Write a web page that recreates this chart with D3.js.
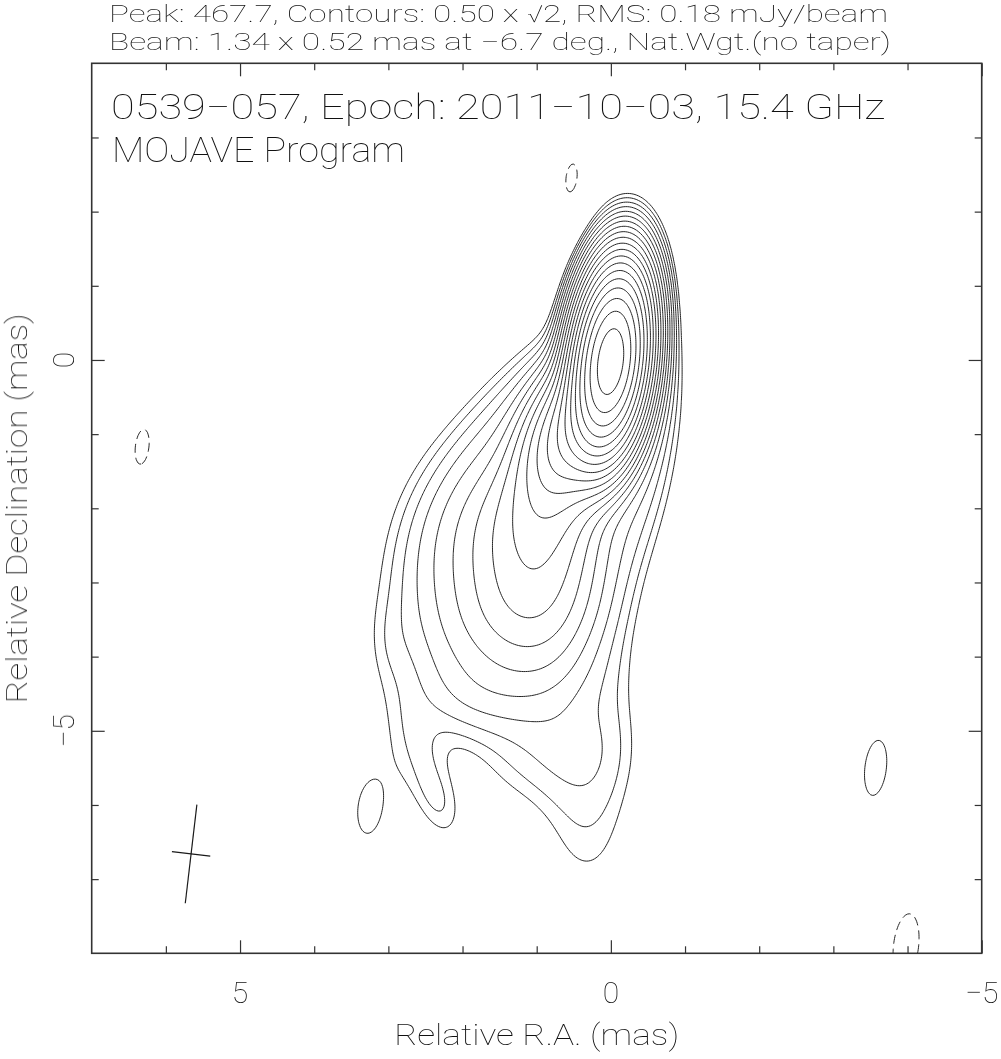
<!DOCTYPE html>
<html><head><meta charset="utf-8">
<script src="https://cdn.jsdelivr.net/npm/d3@7"></script>
<style>
body{margin:0;background:#fff;}
svg text{font-family:Roboto,"DejaVu Sans",sans-serif;font-weight:100;fill:#111;}
</style></head><body>
<svg id="chart" width="1001" height="1059"></svg>
<script>
// ---------------- data ----------------
const headerLines = [
  "Peak: 467.7, Contours: 0.50 x \u221A2, RMS: 0.18 mJy/beam",
  "Beam: 1.34 x 0.52 mas at \u22126.7 deg., Nat.Wgt.(no taper)"
];
const titleLines = ["0539\u2212057, Epoch: 2011\u221210\u221203, 15.4 GHz", "MOJAVE Program"];
const xLabel = "Relative R.A. (mas)";
const yLabel = "Relative Declination (mas)";
const xDomain = [7, -5];
const yDomain = [4, -8];
const xMajorTicks = [5, 0, -5];
const xMajorLabels = ["5", "0", "\u22125"];
const yMajorTicks = [0, -5];
const yMajorLabels = ["0", "\u22125"];
const xMinorTicks = [6, 4, 3, 2, 1, -1, -2, -3, -4];
const yMinorTicks = [3, 2, 1, -1, -2, -3, -4, -6, -7];
// contour levels (mJy/beam): 0.50 x sqrt(2)^n, and the negative -0.50 level
const levels = [0.5, 0.707, 1.0, 1.414, 2.0, 2.828, 4.0, 5.657, 8.0, 11.31,
                16.0, 22.63, 32.0, 45.25, 64.0, 90.51, 128.0, 181.0, 256.0, 362.0];
const negLevels = [0.5];
// brightness components: position (mas), peak (mJy/beam), FWHM major/minor (mas), PA (deg)
//               core   N1     N2     N3     N4     N5     N6     B1     B2     B3     M      W1     W2     E1     E2     bulge  Wf     Wn     U1     S      Lisl   Risl   neg1   neg2    neg3
const compX   = [0.00,  0.40,  0.75,  0.95,  1.00,  1.00,  0.85,  1.75,  1.70,  1.90,  1.70,  0.60,  0.38,  2.55,  2.30,  3.00, -0.05, -0.45,  1.30,  1.40,  3.25, -3.57,  0.53,  6.32,  -3.98];
const compY   = [0.00, -0.85, -1.55, -2.25, -2.95, -3.50, -4.15, -1.75, -2.60, -3.80, -4.60, -5.20, -6.35, -5.45, -6.05, -3.85, -4.50, -1.40, -0.50, -5.50, -6.04, -5.50,  2.45, -1.17,  -7.90];
const compAmp = [458,   33.2,  6.21,  4.56,  3.23,  1.89,  0.92,  1.12,  1.38,  1.24,  0.68,  0.89,  0.50,  0.60,  0.35,  0.19,  0.23,  1.18,  0.50,  0.20,  0.60,  0.62, -0.53, -0.545, -0.67];
const compMaj = [1.44,  1.30,  1.30,  1.30,  1.30,  1.10,  1.00,  2.60,  2.00,  1.60,  1.00,  1.40,  1.80,  1.50,  0.90,  1.00,  3.50,  2.40,  2.00,  1.00,  1.34,  1.34,  1.34,  1.34,   1.34];
const compMin = [0.56,  0.80,  0.90,  1.20,  1.30,  1.30,  1.30,  1.20,  1.70,  1.60,  1.60,  1.40,  1.00,  0.60,  0.50,  0.50,  0.70,  0.70,  0.70,  1.00,  0.62,  0.52,  0.52,  0.52,   0.52];
const compPA  = [-6.7,  155,   165,   175,   0,     0,     0,     150,   0,     0,     0,     0,     0,     20,    20,    0,     178,   170,   143,   0,    -6.7,  -6.7,  -6.7,  -6.7,   -6.7];
// restoring beam
const beamMajor = 1.34, beamMinor = 0.52, beamPA = -6.7;
const beamCenter = [5.66, -6.66];

// ---------------- layout ----------------
const W = 1001, H = 1059;
const plotL = 91.7, plotR = 981.7, plotT = 63.3, plotB = 953.3;
const svg = d3.select("#chart");
svg.append("rect").attr("width", W).attr("height", H).attr("fill", "#fff");
const x = d3.scaleLinear().domain(xDomain).range([plotL, plotR]);
const y = d3.scaleLinear().domain(yDomain).range([plotT, plotB]);

// ---------------- brightness grid ----------------
const K = 4 * Math.LN2;
const comps = compX.map((cx, k) => ({
  cx, cy: compY[k], a: compAmp[k], maj: compMaj[k], min: compMin[k],
  s: Math.sin(compPA[k] * Math.PI / 180), c: Math.cos(compPA[k] * Math.PI / 180)
}));
function field(xv, yv) {
  let v = 0;
  for (const p of comps) {
    const dx = xv - p.cx, dy = yv - p.cy;
    const u = dx * p.s + dy * p.c, w = dx * p.c - dy * p.s;
    const e = K * (u * u / (p.maj * p.maj) + w * w / (p.min * p.min));
    if (e < 30) v += p.a * Math.exp(-e);
  }
  return v;
}
const step = 0.025, gx0 = 7.4, gx1 = -5.4, gy0 = 4.4, gy1 = -8.4;
const nx = Math.round((gx0 - gx1) / step) + 1, ny = Math.round((gy0 - gy1) / step) + 1;
const values = new Float64Array(nx * ny);
for (let j = 0; j < ny; j++) for (let i = 0; i < nx; i++) values[j * nx + i] = field(gx0 - i * step, gy0 - j * step);
const negValues = values.map(v => -v);

const proj = d3.geoTransform({ point(px, py) {
  this.stream.point(x(gx0 - (px - 0.5) * step), y(gy0 - (py - 0.5) * step)); } });
const path = d3.geoPath(proj);

svg.append("clipPath").attr("id", "clip").append("rect")
  .attr("x", plotL).attr("y", plotT).attr("width", plotR - plotL).attr("height", plotB - plotT);
const gC = svg.append("g").attr("clip-path", "url(#clip)");
gC.selectAll("path.pos").data(d3.contours().size([nx, ny]).thresholds(levels)(values))
  .join("path").attr("class", "pos").attr("d", path).attr("fill", "none")
  .attr("stroke", "#1a1a1a").attr("stroke-width", 0.95).attr("stroke-linejoin", "round");
gC.selectAll("path.neg").data(d3.contours().size([nx, ny]).thresholds(negLevels)(negValues))
  .join("path").attr("class", "neg").attr("d", path).attr("fill", "none")
  .attr("stroke", "#1a1a1a").attr("stroke-width", 0.95).attr("stroke-dasharray", "9,5");

// ---------------- beam cross ----------------
const bt = beamPA * Math.PI / 180;
const bMaj = [[beamCenter[0] + beamMajor / 2 * Math.sin(bt), beamCenter[1] + beamMajor / 2 * Math.cos(bt)],
              [beamCenter[0] - beamMajor / 2 * Math.sin(bt), beamCenter[1] - beamMajor / 2 * Math.cos(bt)]];
const bMin = [[beamCenter[0] + beamMinor / 2 * Math.cos(bt), beamCenter[1] - beamMinor / 2 * Math.sin(bt)],
              [beamCenter[0] - beamMinor / 2 * Math.cos(bt), beamCenter[1] + beamMinor / 2 * Math.sin(bt)]];
svg.selectAll("line.beam").data([bMaj, bMin]).join("line").attr("class", "beam")
  .attr("x1", d => x(d[0][0])).attr("y1", d => y(d[0][1]))
  .attr("x2", d => x(d[1][0])).attr("y2", d => y(d[1][1]))
  .attr("stroke", "#1a1a1a").attr("stroke-width", 1.2);

// ---------------- frame & ticks ----------------
function ticks(axisFn, scale, vals, size, transform) {
  svg.append("g").attr("transform", transform)
    .call(axisFn(scale).tickValues(vals).tickSize(size).tickFormat(""))
    .call(g => g.select(".domain").remove())
    .call(g => g.selectAll("line").attr("stroke", "#333").attr("stroke-width", 1.2));
}
ticks(d3.axisBottom, x, xMajorTicks, -13, `translate(0,${plotB})`);
ticks(d3.axisBottom, x, xMinorTicks, -7, `translate(0,${plotB})`);
ticks(d3.axisTop, x, xMajorTicks, -13, `translate(0,${plotT})`);
ticks(d3.axisTop, x, xMinorTicks, -7, `translate(0,${plotT})`);
ticks(d3.axisLeft, y, yMajorTicks, -13, `translate(${plotL},0)`);
ticks(d3.axisLeft, y, yMinorTicks, -7, `translate(${plotL},0)`);
ticks(d3.axisRight, y, yMajorTicks, -13, `translate(${plotR},0)`);
ticks(d3.axisRight, y, yMinorTicks, -7, `translate(${plotR},0)`);
svg.append("rect").attr("x", plotL).attr("y", plotT)
  .attr("width", plotR - plotL).attr("height", plotB - plotT)
  .attr("fill", "none").attr("stroke", "#333").attr("stroke-width", 1.6);

// ---------------- texts ----------------
const tg = svg.append("g").attr("opacity", 0.999);
const hdr = [[109, 22, 779], [109, 50, 782]];
tg.selectAll("text.hdr").data(headerLines).join("text").attr("class", "hdr")
  .attr("x", (d, i) => hdr[i][0]).attr("y", (d, i) => hdr[i][1])
  .attr("textLength", (d, i) => hdr[i][2]).attr("lengthAdjust", "spacingAndGlyphs")
  .attr("font-size", 24).text(d => d);
const ttl = [[111, 119, 774], [112, 162, 293]];
tg.selectAll("text.ttl").data(titleLines).join("text").attr("class", "ttl")
  .attr("x", (d, i) => ttl[i][0]).attr("y", (d, i) => ttl[i][1])
  .attr("textLength", (d, i) => ttl[i][2]).attr("lengthAdjust", "spacingAndGlyphs")
  .attr("font-size", 35).text(d => d);
tg.selectAll("text.xt").data(xMajorTicks).join("text").attr("class", "xt")
  .attr("x", d => x(d)).attr("y", 1003).attr("text-anchor", "middle")
  .attr("font-size", 30).text((d, i) => xMajorLabels[i]);
tg.selectAll("text.yt").data(yMajorTicks).join("text").attr("class", "yt")
  .attr("transform", d => `translate(74,${y(d)}) rotate(-90)`).attr("text-anchor", "middle")
  .attr("font-size", 30).text((d, i) => yMajorLabels[i]);
tg.append("text").attr("x", (plotL + plotR) / 2).attr("y", 1045).attr("text-anchor", "middle")
  .attr("font-size", 29).attr("textLength", 285).attr("lengthAdjust", "spacingAndGlyphs").text(xLabel);
tg.append("text").attr("transform", `translate(27,${(plotT + plotB) / 2}) rotate(-90)`)
  .attr("text-anchor", "middle").attr("font-size", 29)
  .attr("textLength", 390).attr("lengthAdjust", "spacingAndGlyphs").text(yLabel);
</script>
</body></html>
